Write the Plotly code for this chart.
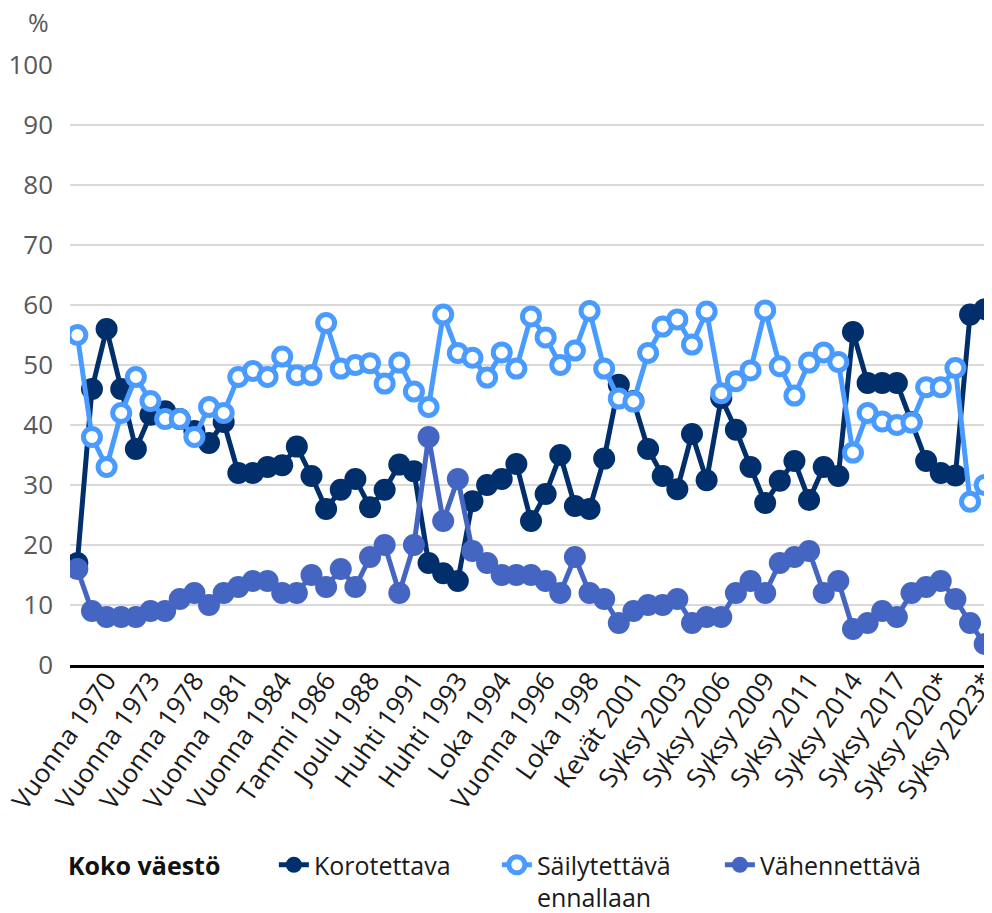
import plotly.graph_objects as go

tick_labels = ["Vuonna 1970", "Vuonna 1973", "Vuonna 1978", "Vuonna 1981", "Vuonna 1984",
               "Tammi 1986", "Joulu 1988", "Huhti 1991", "Huhti 1993", "Loka 1994",
               "Vuonna 1996", "Loka 1998", "Kevät 2001", "Syksy 2003", "Syksy 2006",
               "Syksy 2009", "Syksy 2011", "Syksy 2014", "Syksy 2017", "Syksy 2020*",
               "Syksy 2023*"]

korotettava = [17, 46, 56, 46, 36, 41.7, 42.3, 41, 39, 37,
               40.5, 32, 32, 33, 33.3, 36.4, 31.5, 26, 29.2, 31,
               26.3, 29.2, 33.4, 32.3, 17, 15.3, 14, 27.3, 30, 31,
               33.5, 24, 28.5, 35, 26.5, 26, 34.4, 46.7, 44, 36,
               31.5, 29.3, 38.5, 30.8, 44.5, 39.2, 33, 27, 30.7, 34,
               27.5, 33, 31.5, 55.5, 47, 47, 47, 40.5, 34, 32,
               31.6, 58.4, 59.3]

sailytettava = [55, 38, 33, 42, 48, 44, 41, 41, 38, 43,
                42, 48, 49, 48, 51.4, 48.3, 48.3, 57, 49.4, 50,
                50.3, 46.9, 50.4, 45.6, 43, 58.4, 52, 51.2, 47.9, 52.1,
                49.4, 58.1, 54.6, 50, 52.4, 59, 49.4, 44.4, 43.9, 52,
                56.4, 57.6, 53.4, 58.9, 45.3, 47.3, 49.1, 59.1, 49.8, 44.9,
                50.4, 52.1, 50.5, 35.4, 42, 40.6, 40, 40.4, 46.3, 46.3,
                49.5, 27.2, 30]

vahennettava = [16, 9, 8, 8, 8, 9, 9, 11, 12, 10,
                12, 13, 14, 14, 12, 12, 15, 13, 16, 13,
                18, 20, 12, 20, 38, 24, 31, 19, 17, 15,
                15, 15, 14, 12, 18, 12, 11, 7, 9, 10,
                10, 11, 7, 8, 8, 12, 14, 12, 17, 18,
                19, 12, 14, 6, 7, 9, 8, 12, 13, 14,
                11, 7, 3.5]

x = list(range(len(korotettava)))
tickvals = list(range(2, len(korotettava), 3))

DARK = "#002F6C"
LIGHT = "#4A9BFF"
MID = "#4565C2"
FONT = "Open Sans"

# page body has an 8px margin: figure is sized/offset to compensate
W, H = 984, 905

fig = go.Figure()
fig.add_trace(go.Scatter(x=x, y=korotettava, name="Korotettava", mode="lines+markers",
                         line=dict(color=DARK, width=5),
                         marker=dict(color=DARK, size=22)))
fig.add_trace(go.Scatter(x=x, y=sailytettava, name="Säilytettävä<br>ennallaan", mode="lines+markers",
                         line=dict(color=LIGHT, width=5),
                         marker=dict(color="white", size=17, line=dict(color=LIGHT, width=5))))
fig.add_trace(go.Scatter(x=x, y=vahennettava, name="Vähennettävä", mode="lines+markers",
                         line=dict(color=MID, width=5),
                         marker=dict(color=MID, size=22)))

fig.update_layout(
    width=W, height=H,
    margin=dict(l=62, r=0, t=57, b=248, autoexpand=False),
    paper_bgcolor="white", plot_bgcolor="white",
    font=dict(family=FONT, size=25, color="#1a1a1a"),
    showlegend=True,
    legend=dict(orientation="h", xref="container", yref="container",
                x=58 / W, y=1 - 834 / H, xanchor="left", yanchor="top",
                valign="top", entrywidth=178, entrywidthmode="pixels",
                title=dict(text="<b>Koko väestö</b>" + "\u00a0" * 7,
                           font=dict(size=25, color="#111111")),
                font=dict(size=25, color="#1a1a1a"),
                traceorder="normal", itemsizing="trace"),
    xaxis=dict(range=[-0.5, 62.5], tickmode="array", tickvals=tickvals, ticktext=tick_labels,
               tickangle=-55, showgrid=False, zeroline=False, automargin=False,
               showline=True, linecolor="black", linewidth=3,
               ticklabeloverflow="allow", ticklabelstandoff=-13,
               tickfont=dict(size=26, color="#1a1a1a")),
    yaxis=dict(range=[0, 100], dtick=10, showgrid=True, gridcolor="#D9D9D9", gridwidth=1.5,
               zeroline=False, automargin=False, tickfont=dict(size=26, color="#595959"),
               ticklabelstandoff=16),
    annotations=[dict(text="%", xref="paper", yref="paper", x=(30 - 62) / 922, y=(657 - 14) / 600,
                      xanchor="center", yanchor="middle", showarrow=False,
                      font=dict(size=25, color="#595959"))],
)

fig.write_html("out.html")
